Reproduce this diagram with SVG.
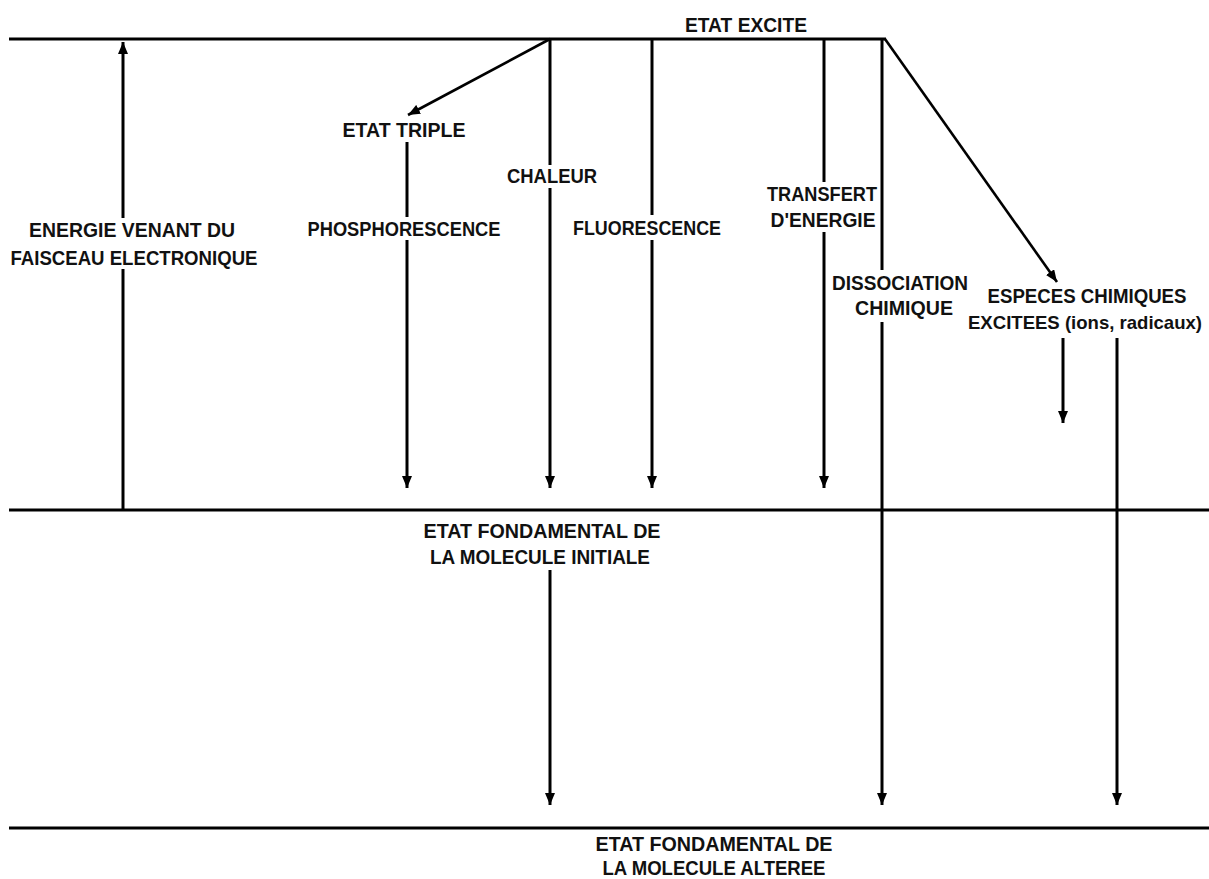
<svg xmlns="http://www.w3.org/2000/svg" width="1209" height="879" viewBox="0 0 1209 879">
<defs>
<marker id="ah" viewBox="0 0 12 10" refX="12" refY="5" markerWidth="12" markerHeight="10" markerUnits="userSpaceOnUse" orient="auto">
<path d="M0,0 L12,5 L0,10 z" fill="#000"/>
</marker>
<style>
.lvl{stroke:#000;stroke-width:3;fill:none}
.c{stroke:#000;stroke-width:3;fill:none}
.d{stroke:#000;stroke-width:2.6;fill:none}
.arr{marker-end:url(#ah)}
text{font-family:"Liberation Sans",Arial,sans-serif;font-weight:bold;font-size:20.5px;fill:#111;text-anchor:middle}
text.sm{font-size:19px}
</style>
</defs>
<rect width="1209" height="879" fill="#fff"/>
<g id="levels">
<line class="lvl" x1="9" y1="39" x2="886" y2="39"/>
<line class="lvl" x1="9" y1="510" x2="1209" y2="510"/>
<line class="lvl" x1="9" y1="828" x2="1209" y2="828"/>
</g>
<g id="connectors">
<line class="c" x1="123" y1="510" x2="123" y2="269"/>
<line class="c arr" x1="123" y1="218" x2="123" y2="42"/>
<line class="d arr" x1="550" y1="39" x2="408" y2="115"/>
<line class="c" x1="407" y1="142" x2="407" y2="217"/>
<line class="c arr" x1="407" y1="240" x2="407" y2="488"/>
<line class="c" x1="550" y1="39" x2="550" y2="165"/>
<line class="c arr" x1="550" y1="188" x2="550" y2="488"/>
<line class="c" x1="652" y1="39" x2="652" y2="215"/>
<line class="c arr" x1="652" y1="240" x2="652" y2="488"/>
<line class="c" x1="824" y1="39" x2="824" y2="182"/>
<line class="c arr" x1="824" y1="232" x2="824" y2="488"/>
<line class="c" x1="882" y1="39" x2="882" y2="270"/>
<line class="c arr" x1="882" y1="322" x2="882" y2="805"/>
<line class="d arr" x1="885" y1="39" x2="1057" y2="282"/>
<line class="c arr" x1="1063" y1="338" x2="1063" y2="423"/>
<line class="c arr" x1="1117" y1="338" x2="1117" y2="805"/>
<line class="c arr" x1="550" y1="570" x2="550" y2="805"/>
</g>
<g id="n-excite"><text x="746" y="32" textLength="122" lengthAdjust="spacingAndGlyphs">ETAT EXCITE</text></g>
<g id="n-energie"><text x="132" y="237" textLength="206" lengthAdjust="spacingAndGlyphs">ENERGIE VENANT DU</text><text x="134" y="265" textLength="247" lengthAdjust="spacingAndGlyphs">FAISCEAU ELECTRONIQUE</text></g>
<g id="n-triple"><text x="404" y="137" textLength="123" lengthAdjust="spacingAndGlyphs">ETAT TRIPLE</text></g>
<g id="n-phospho"><text x="404" y="236" textLength="193" lengthAdjust="spacingAndGlyphs">PHOSPHORESCENCE</text></g>
<g id="n-chaleur"><text x="552" y="183" textLength="90" lengthAdjust="spacingAndGlyphs">CHALEUR</text></g>
<g id="n-fluo"><text x="647" y="235" textLength="148" lengthAdjust="spacingAndGlyphs">FLUORESCENCE</text></g>
<g id="n-transfert"><text x="822" y="201" textLength="110" lengthAdjust="spacingAndGlyphs">TRANSFERT</text><text x="823" y="227" textLength="105" lengthAdjust="spacingAndGlyphs">D'ENERGIE</text></g>
<g id="n-dissociation"><text x="900" y="290" textLength="136" lengthAdjust="spacingAndGlyphs">DISSOCIATION</text><text x="904" y="315" textLength="98" lengthAdjust="spacingAndGlyphs">CHIMIQUE</text></g>
<g id="n-especes"><text x="1087" y="303" textLength="199" lengthAdjust="spacingAndGlyphs">ESPECES CHIMIQUES</text><text class="sm" x="1085" y="329" textLength="234" lengthAdjust="spacingAndGlyphs">EXCITEES (ions, radicaux)</text></g>
<g id="n-fond-init"><text x="542" y="538" textLength="237" lengthAdjust="spacingAndGlyphs">ETAT FONDAMENTAL DE</text><text x="540" y="564" textLength="220" lengthAdjust="spacingAndGlyphs">LA MOLECULE INITIALE</text></g>
<g id="n-fond-alt"><text x="714" y="851" textLength="237" lengthAdjust="spacingAndGlyphs">ETAT FONDAMENTAL DE</text><text x="714" y="875" textLength="223" lengthAdjust="spacingAndGlyphs">LA MOLECULE ALTEREE</text></g>
</svg>
